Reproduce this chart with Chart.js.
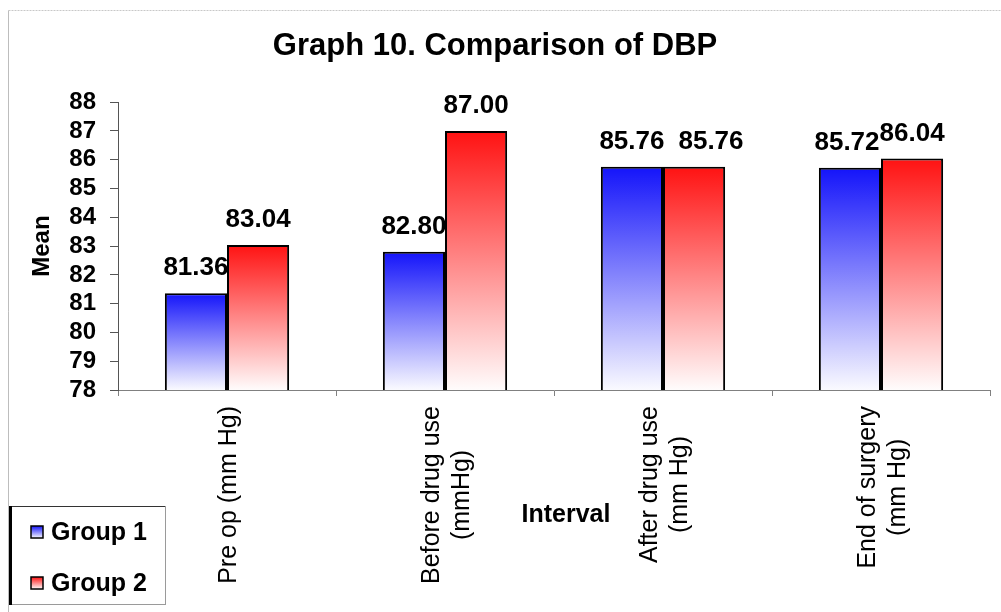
<!DOCTYPE html>
<html>
<head>
<meta charset="utf-8">
<title>Graph 10. Comparison of DBP</title>
<script src="https://cdn.jsdelivr.net/npm/chart.js@4.4.1/dist/chart.umd.min.js"></script>
<style>
  html, body { margin: 0; padding: 0; background: #ffffff; }
  #wrap { width: 1001px; height: 612px; }
</style>
</head>
<body>
<div id="wrap"><canvas id="dbp" width="1001" height="612"></canvas></div>
<script>
// Intervals at which diastolic blood pressure was recorded (one line per array entry)
const intervals = [
  ["Pre op (mm Hg)"],
  ["Before drug use", "(mmHg)"],
  ["After drug use", "(mm Hg)"],
  ["End of surgery", "(mm Hg)"]
];
const seriesNames = ["Group 1", "Group 2"];
// Mean DBP per interval
const group1 = [81.36, 82.80, 85.76, 85.72];
const group2 = [83.04, 87.00, 85.76, 86.04];
const yTicks = [78, 79, 80, 81, 82, 83, 84, 85, 86, 87, 88];

const FONT = "Arial, 'Liberation Sans', sans-serif";
const tops = { "Group 1": "rgb(20,20,250)", "Group 2": "rgb(255,18,18)" };
const bottoms = { "Group 1": "rgb(250,250,255)", "Group 2": "rgb(255,252,252)" };

// vertical gradient from the top of each bar down to the baseline
function barFill(ctx) {
  const chart = ctx.chart;
  const area = chart.chartArea;
  const name = ctx.dataset.label;
  if (!area || ctx.dataIndex === undefined) return tops[name];
  const y = chart.scales.y.getPixelForValue(ctx.dataset.data[ctx.dataIndex]);
  const g = chart.ctx.createLinearGradient(0, y, 0, area.bottom);
  g.addColorStop(0, tops[name]);
  g.addColorStop(1, bottoms[name]);
  return g;
}

// page frame, category labels, axis caption, value labels and legend box
const decorations = {
  id: "decorations",
  beforeDraw(chart) {
    const c = chart.ctx;
    c.save();
    c.fillStyle = "#ffffff";
    c.fillRect(0, 0, chart.width, chart.height);
    c.strokeStyle = "#c8c8c8";
    c.lineWidth = 1;
    c.setLineDash([2, 1]);
    c.beginPath();
    c.moveTo(8.5, 10.5); c.lineTo(chart.width, 10.5);
    c.stroke();
    c.setLineDash([]);
    c.strokeStyle = "#bdbdbd";
    c.beginPath();
    c.moveTo(8.5, 10.5); c.lineTo(8.5, chart.height);
    c.stroke();
    c.restore();
  },
  afterDraw(chart) {
    const c = chart.ctx;
    const xs = chart.scales.x;
    const area = chart.chartArea;
    c.save();

    // rotated category labels, lines centred on each other
    c.fillStyle = "#000";
    c.font = "25px " + FONT;
    const lh = 30;
    intervals.forEach((lines, i) => {
      const x = xs.getPixelForValue(i);
      const w = Math.max(...lines.map(t => c.measureText(t).width));
      c.save();
      c.translate(x + 2, area.bottom + 16);
      c.rotate(-Math.PI / 2);
      c.textAlign = "center";
      c.textBaseline = "middle";
      lines.forEach((t, k) => {
        c.fillText(t, -w / 2, (k - (lines.length - 1) / 2) * lh);
      });
      c.restore();
    });

    // axis caption
    c.font = "bold 25px " + FONT;
    c.textAlign = "center";
    c.textBaseline = "middle";
    c.fillText("Interval", 566, 515);

    // value labels above bars; labels of one category that would collide
    // are spread apart: a label at the same height moves right past its
    // neighbour, a slightly lower one moves left until they just touch
    c.font = "bold 26px " + FONT;
    c.textBaseline = "alphabetic";
    c.textAlign = "center";
    const n = chart.data.labels.length;
    for (let i = 0; i < n; i++) {
      const items = chart.data.datasets.map((ds, di) => {
        const bar = chart.getDatasetMeta(di).data[i];
        const txt = ds.data[i].toFixed(2);
        return { txt, x: bar.x, y: bar.y - 18, w: c.measureText(txt).width };
      });
      for (let k = 1; k < items.length; k++) {
        const a = items[k - 1], b = items[k];
        const overlap = (a.x + a.w / 2) - (b.x - b.w / 2);
        if (overlap <= 0) continue;
        const dy = Math.abs(a.y - b.y);
        if (dy < 4) b.x += overlap + 14;
        else if (dy < 20) a.x -= overlap;
      }
      items.forEach(it => c.fillText(it.txt, it.x, it.y));
    }

    // legend box
    const lx = 9, ly = 506, lw = 156, lhgt = 98;
    c.strokeStyle = "#9a9a9a";
    c.lineWidth = 1;
    c.strokeRect(lx + 0.5, ly + 0.5, lw, lhgt);
    c.strokeStyle = "#333";
    c.beginPath(); c.moveTo(lx, ly + 0.5); c.lineTo(lx + lw, ly + 0.5); c.stroke();
    c.fillStyle = "#000";
    c.fillRect(lx, ly, 3, lhgt + 1);
    chart.data.datasets.forEach((ds, di) => {
      const cy = 532 + di * 51;
      const g = c.createLinearGradient(0, cy - 6, 0, cy + 6);
      g.addColorStop(0, tops[ds.label]);
      g.addColorStop(1, bottoms[ds.label]);
      c.fillStyle = g;
      c.fillRect(31, cy - 6, 12, 12);
      c.strokeStyle = "#000";
      c.lineWidth = 1.5;
      c.strokeRect(31, cy - 6, 12, 12);
      c.fillStyle = "#000";
      c.font = "bold 25px " + FONT;
      c.textAlign = "left";
      c.textBaseline = "middle";
      c.fillText(ds.label, 51, cy + 1);
    });
    c.restore();
  }
};

new Chart(document.getElementById("dbp"), {
  type: "bar",
  data: {
    labels: intervals,
    datasets: [
      { label: seriesNames[0], data: group1, backgroundColor: barFill, borderColor: "#000", borderWidth: 2, borderSkipped: false },
      { label: seriesNames[1], data: group2, backgroundColor: barFill, borderColor: "#000", borderWidth: 2, borderSkipped: false }
    ]
  },
  options: {
    responsive: false,
    animation: false,
    layout: { padding: { left: 0, right: 11, top: 0, bottom: 0 } },
    datasets: { bar: { categoryPercentage: 0.57, barPercentage: 1.0 } },
    plugins: {
      legend: { display: false },
      tooltip: { enabled: false },
      title: {
        display: true,
        text: "Graph 10. Comparison of DBP",
        color: "#000",
        font: { family: FONT, size: 31, weight: "bold", lineHeight: 1.2 },
        padding: { top: 28, bottom: 37 }
      }
    },
    scales: {
      x: {
        ticks: { display: false },
        grid: { offset: true, drawOnChartArea: false, drawTicks: true, tickLength: 6, color: "#808080" },
        border: { display: true, color: "#808080", width: 1 },
        afterFit(scale) { scale.height = 222; }
      },
      y: {
        min: yTicks[0],
        max: yTicks[yTicks.length - 1],
        afterBuildTicks(scale) { scale.ticks = yTicks.map(v => ({ value: v })); },
        ticks: {
          color: "#000",
          padding: 14,
          autoSkip: false,
          font: { family: FONT, size: 24, weight: "bold", lineHeight: 1 }
        },
        grid: { drawOnChartArea: false, drawTicks: true, tickLength: 8, color: "#555" },
        border: { display: true, color: "#555", width: 1 },
        title: {
          display: true,
          text: "Mean",
          color: "#000",
          font: { family: FONT, size: 24, weight: "bold" },
          padding: { top: 28, bottom: 0 }
        },
        afterFit(scale) { scale.width = 118; }
      }
    }
  },
  plugins: [decorations]
});
</script>
</body>
</html>
